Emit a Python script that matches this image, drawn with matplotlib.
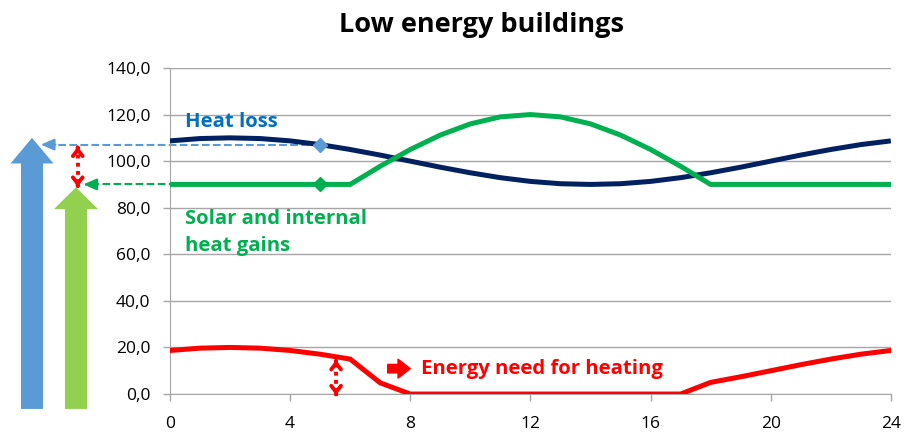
import matplotlib.pyplot as plt
import matplotlib.transforms as mtransforms

plt.rcParams['font.family'] = ['Open Sans', 'DejaVu Sans']

hours = list(range(25))
heat_loss = [108.7, 109.7, 110.0, 109.7, 108.7, 107.1, 105.0, 102.6, 100.0, 97.4, 95.0, 92.9, 91.3,
             90.3, 90.0, 90.3, 91.3, 92.9, 95.0, 97.4, 100.0, 102.6, 105.0, 107.1, 108.7]
heat_gains = [90.0, 90.0, 90.0, 90.0, 90.0, 90.0, 90.0, 97.8, 105.0, 111.2, 116.0, 119.0, 120.0,
              119.0, 116.0, 111.2, 105.0, 97.8, 90.0, 90.0, 90.0, 90.0, 90.0, 90.0, 90.0]
energy_need = [18.7, 19.7, 20.0, 19.7, 18.7, 17.1, 15.0, 4.8, 0.0, 0.0, 0.0, 0.0, 0.0,
               0.0, 0.0, 0.0, 0.0, 0.0, 5.0, 7.4, 10.0, 12.6, 15.0, 17.1, 18.7]

xticks = [0, 4, 8, 12, 16, 20, 24]
yticks = [0, 20, 40, 60, 80, 100, 120, 140]
ytick_labels = ["0,0", "20,0", "40,0", "60,0", "80,0", "100,0", "120,0", "140,0"]

mark_hour = 5

NAVY = '#002060'
GREEN = '#00B050'
RED = '#FF0000'
LBLUE = '#5B9BD5'
LGREEN = '#92D050'

fig = plt.figure(figsize=(9.09, 4.33), dpi=100)
ax = fig.add_axes([0.187, 0.090, 0.793, 0.753])

ax.plot(hours, heat_loss, color=NAVY, lw=3.6, zorder=3, solid_capstyle='butt')
ax.plot(hours, heat_gains, color=GREEN, lw=3.6, zorder=3, solid_joinstyle='miter')
ax.plot(hours, energy_need, color=RED, lw=3.6, zorder=3, solid_joinstyle='miter')

ax.plot([mark_hour], [heat_loss[mark_hour]], marker='D', color=LBLUE, ms=7, zorder=4)
ax.plot([mark_hour], [heat_gains[mark_hour]], marker='D', color=GREEN, ms=7, zorder=4)

ax.set_xlim(0, 24)
ax.set_ylim(0, 140)
ax.set_xticks(xticks)
ax.set_yticks(yticks)
ax.set_yticklabels(ytick_labels)
ax.tick_params(axis='both', labelsize=12.5, length=5, color='#A6A6A6', width=1)
ax.tick_params(axis='y', pad=9)
ax.tick_params(axis='x', pad=11)
ax.grid(axis='y', color='#A6A6A6', lw=1)
ax.set_axisbelow(True)
for s in ['top', 'right']:
    ax.spines[s].set_visible(False)
for s in ['left', 'bottom']:
    ax.spines[s].set_color('#A6A6A6')

fig.text(0.530, 0.942, "Low energy buildings", ha='center', va='center',
         fontsize=19.5, fontweight='bold')

# x in axes fraction, y in data
blend = mtransforms.blended_transform_factory(ax.transAxes, ax.transData)
xm = mark_hour / 24


def big_arrow(cx, half_shaft, half_head, bottom, head_base, tip, color):
    xs = [cx - half_shaft, cx - half_shaft, cx - half_head, cx, cx + half_head,
          cx + half_shaft, cx + half_shaft]
    ys = [bottom, head_base, head_base, tip, head_base, head_base, bottom]
    ax.fill(xs, ys, color=color, transform=blend, clip_on=False, lw=0)


big_arrow(-0.1914, 0.0153, 0.0298, -6.4, 99.0, 110.0, LBLUE)
big_arrow(-0.1304, 0.0153, 0.0305, -6.4, 79.4, 88.8, LGREEN)

# dashed leader arrows
ax.plot([xm, -0.16], [heat_loss[mark_hour]] * 2, color=LBLUE, lw=1.5, ls='--',
        transform=blend, clip_on=False, zorder=2)
ax.annotate('', xy=(-0.183, heat_loss[mark_hour]), xytext=(-0.155, heat_loss[mark_hour]),
            xycoords=blend, textcoords=blend,
            arrowprops=dict(arrowstyle='-|>, head_width=0.35, head_length=0.8',
                            color=LBLUE, lw=1.5))
ax.plot([xm, -0.105], [heat_gains[mark_hour]] * 2, color=GREEN, lw=1.5, ls='--',
        transform=blend, clip_on=False, zorder=2)
ax.annotate('', xy=(-0.124, heat_gains[mark_hour]), xytext=(-0.10, heat_gains[mark_hour]),
            xycoords=blend, textcoords=blend,
            arrowprops=dict(arrowstyle='-|>, head_width=0.35, head_length=0.8',
                            color=GREEN, lw=1.5))


def dotted_double(x, y0, y1, trans):
    ax.plot([x, x], [y0 + 1.5, y1 - 1.5], color=RED, lw=2.8, ls=(0, (1, 1.1)),
            transform=trans, clip_on=False, zorder=5)
    for tip, back in [(y1, y1 - 0.5), (y0, y0 + 0.5)]:
        ax.annotate('', xy=(x, tip), xytext=(x, back), xycoords=trans, textcoords=trans,
                    arrowprops=dict(arrowstyle='->, head_width=0.35, head_length=0.45',
                                    color=RED, lw=2.8, shrinkA=0, shrinkB=0),
                    zorder=5, annotation_clip=False)


dotted_double(-0.128, 89.0, 106.2, blend)
dotted_double(5.53, -0.5, 14.6, ax.transData)

ax.text(0.5, 117, "Heat loss", color='#0070C0', fontsize=14.6, fontweight='bold',
        ha='left', va='center')
ax.text(0.5, 75.0, "Solar and internal", color=GREEN, fontsize=14.6,
        fontweight='bold', ha='left', va='center')
ax.text(0.5, 63.4, "heat gains", color=GREEN, fontsize=14.6,
        fontweight='bold', ha='left', va='center')
ax.annotate('', xy=(8.0, 10.9), xytext=(7.25, 10.9),
            arrowprops=dict(arrowstyle='simple, head_length=0.55, head_width=0.85, tail_width=0.38',
                            color=RED, mutation_scale=16, shrinkA=0, shrinkB=0))
ax.text(8.35, 10.9, "Energy need for heating", color=RED, fontsize=14.6,
        fontweight='bold', ha='left', va='center')

fig.savefig('out.png', dpi=100)
